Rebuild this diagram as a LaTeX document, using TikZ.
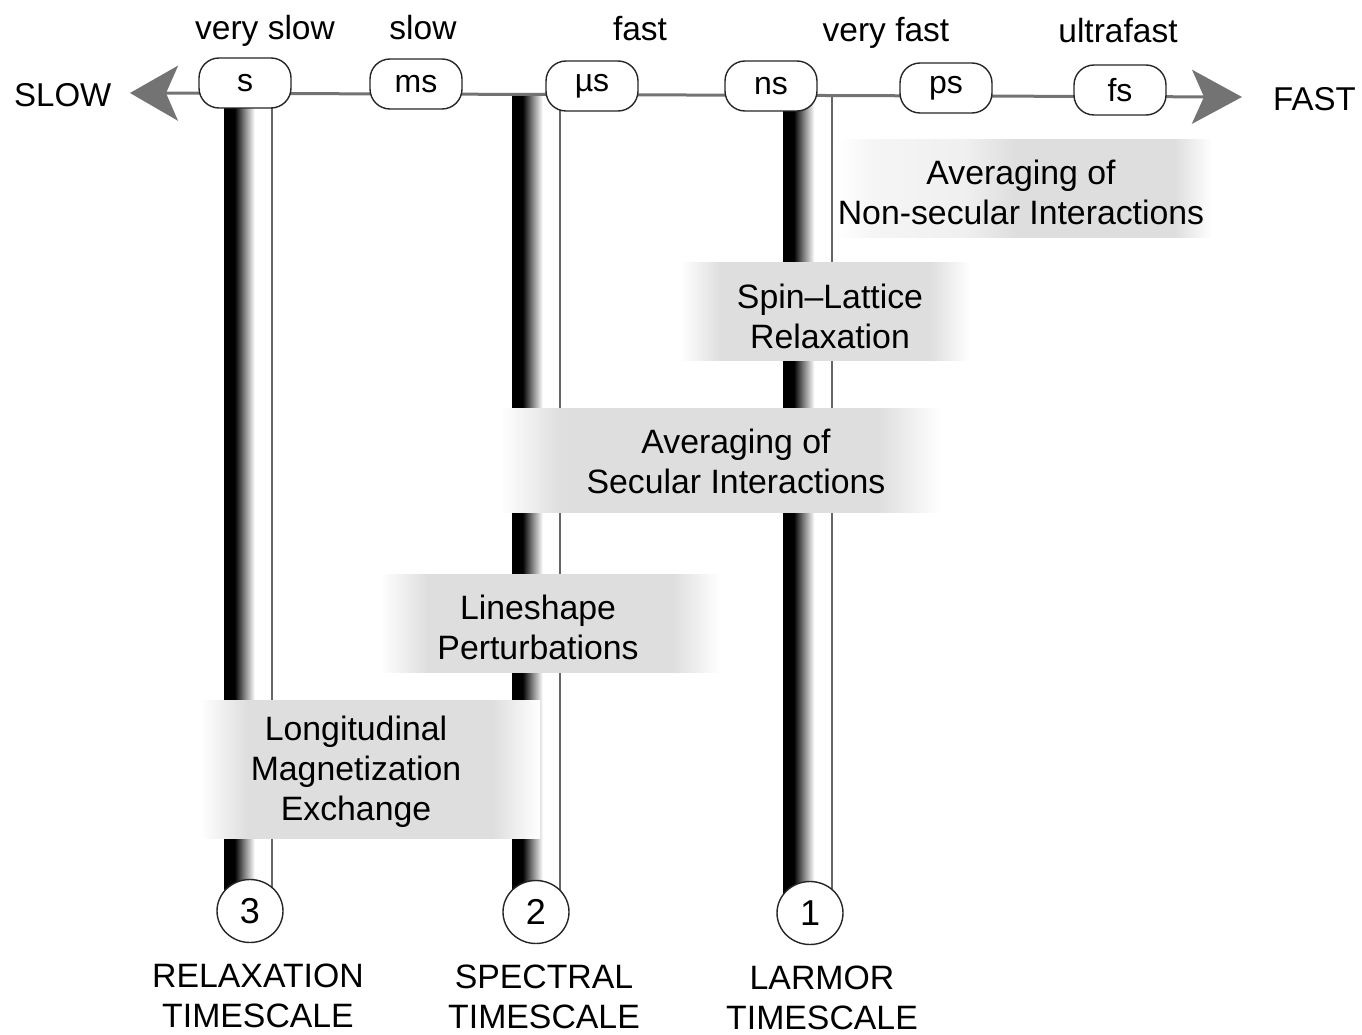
\documentclass[tikz,border=0pt]{standalone}
\usepackage{fontspec}
\setmainfont{Liberation Sans}
\usetikzlibrary{arrows.meta,shapes.geometric}
\pgfdeclarehorizontalshading{pillarshade}{100bp}{color(0bp)=(black); color(25bp)=(black); color(36bp)=(black); color(46bp)=(black!50); color(57bp)=(white); color(100bp)=(white)}
\pgfdeclarehorizontalshading{softbox}{100bp}{color(0bp)=(white); color(25bp)=(white); color(32bp)=(gray!26); color(68bp)=(gray!26); color(75bp)=(white); color(100bp)=(white)}
\pgfdeclarehorizontalshading{nonsecshade}{100bp}{color(0bp)=(white); color(25bp)=(white); color(30bp)=(gray!8); color(42bp)=(gray!12); color(49bp)=(gray!26); color(70bp)=(gray!26); color(75bp)=(white); color(100bp)=(white)}
\begin{document}
\begin{tikzpicture}[x=1pt,y=-1pt,
  unitbox/.style={draw=black!85, line width=1.4pt, fill=white, rounded corners=20pt,
    minimum width=92pt, minimum height=50pt, inner sep=0pt, font=\fontsize{32}{36}\selectfont},
  scalelabel/.style={font=\fontsize{33.5}{36}\selectfont, anchor=base, inner sep=0pt},
  endlabel/.style={font=\fontsize{33}{36}\selectfont, anchor=base west, inner sep=0pt},
  labeltext/.style={align=center, font=\fontsize{33.8}{40}\selectfont, inner sep=0pt},
  bottomtext/.style={align=center, font=\fontsize{33.8}{40}\selectfont, inner sep=0pt},
  numcircle/.style={ellipse, draw=black!85, line width=1.4pt, fill=white,
    minimum width=66pt, minimum height=63pt, inner sep=0pt, font=\fontsize{36}{40}\selectfont},
  pillarline/.style={draw=black!60, line width=1.6pt},
  axisline/.style={draw=black!55, line width=3pt},
]
\useasboundingbox (0,0) rectangle (1362,1035);

% pillars
\shade[shading=pillarshade] (224,108) rectangle (272,911);
\draw[pillarline] (272,108) -- (272,911);
\shade[shading=pillarshade] (512,95) rectangle (560,912);
\draw[pillarline] (560,95) -- (560,912);
\shade[shading=pillarshade] (783,97) rectangle (832,913);
\draw[pillarline] (832,97) -- (832,913);

% axis
\coordinate (axL) at (130,93);
\coordinate (axR) at (1242,97);
\draw[axisline, {Stealth[length=48pt,width=55pt,inset=12pt]}-{Stealth[length=50pt,width=54pt,inset=12pt]}] (axL) -- (axR);

% unit boxes
\node[unitbox] (us) at (245,83) {s};
\node[unitbox] (ums) at (416,84) {ms};
\node[unitbox] (umu) at (592,86) {µs};
\node[unitbox] (uns) at (771,86) {ns};
\node[unitbox] (ups) at (946,88) {ps};
\node[unitbox] (ufs) at (1120,90) {fs};

% scale labels
\node[scalelabel] (lvs) at (265,40) {very slow};
\node[scalelabel] (lsl) at (423,40) {slow};
\node[scalelabel] (lfa) at (640,41) {fast};
\node[scalelabel] (lvf) at (886,42) {very fast};
\node[scalelabel] (luf) at (1118,43) {ultrafast};
\node[endlabel] (slow) at (14,107) {SLOW};
\node[endlabel] (fast) at (1273,111) {FAST};

% label boxes
\shade[shading=nonsecshade] (836,140) rectangle (1212,237);
\node[labeltext] (nonsec) at (1021,192) {Averaging of\\Non-secular Interactions};
\shade[shading=softbox] (680,262) rectangle (970,360);
\node[labeltext] (spin) at (830,316) {Spin–Lattice\\Relaxation};
\shade[shading=softbox] (500,408) rectangle (940,512);
\node[labeltext] (secular) at (736,461) {Averaging of\\Secular Interactions};
\shade[shading=softbox] (380,574) rectangle (720,672);
\node[labeltext] (lineshape) at (538,627) {Lineshape\\Perturbations};
\shade[shading=softbox] (200,700) rectangle (540,838);
\node[labeltext] (longit) at (356,772) {Longitudinal\\Magnetization\\Exchange};

% circles
\node[numcircle] (c3) at (250,911) {3};
\node[numcircle] (c2) at (536,912) {2};
\node[numcircle] (c1) at (810,913) {1};

% bottom labels
\node[bottomtext] (relax) at (258,996) {RELAXATION\\TIMESCALE};
\node[bottomtext] (spec) at (544,997) {SPECTRAL\\TIMESCALE};
\node[bottomtext] (larmor) at (822,998) {LARMOR\\TIMESCALE};
\end{tikzpicture}
\end{document}
